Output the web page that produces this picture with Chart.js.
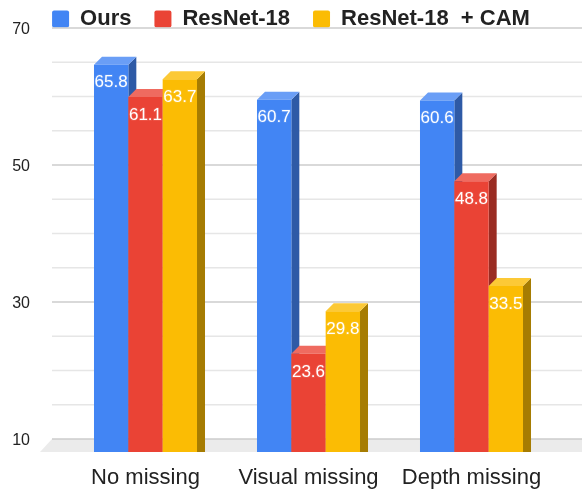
<!DOCTYPE html>
<html>
<head>
<meta charset="utf-8">
<style>html,body{margin:0;padding:0;background:#fff}canvas{display:block}</style>
<script src="https://cdn.jsdelivr.net/npm/chart.js@4/dist/chart.umd.min.js"></script>
</head>
<body>
<canvas id="c" width="582" height="491"></canvas>
<script>
const categories = ['No missing', 'Visual missing', 'Depth missing'];
const ours = [65.8, 60.7, 60.6];
const resnet18 = [61.1, 23.6, 48.8];
const resnet18Cam = [63.7, 29.8, 33.5];
const labeledTicks = [10, 30, 50, 70];

const faces = [
  {front:'#4285F4', top:'#6A9EF6', side:'#2E5AA6'},
  {front:'#EA4335', top:'#EF6B60', side:'#9A2C23'},
  {front:'#FBBC04', top:'#FCC936', side:'#A67C02'}
];
const DEPTH = 8, FLOOR = 13, WALL_LEFT = 52, WALL_TOP = 28;

const scene = {
  id: 'scene',
  afterLayout(chart) {
    chart.legend.top = -15;
    const y = chart.scales.y;
    const shift = y.getPixelForValue(70) - WALL_TOP;
    y.top -= shift;
    y.height += shift;
    chart.chartArea.top -= shift;
    chart.chartArea.height += shift;
    y.configure();
    y._labelItems = null;
  },
  beforeDatasetsDraw(chart) {
    const {ctx} = chart;
    const y = chart.scales.y;
    const yBase = y.getPixelForValue(10);
    ctx.save();
    ctx.fillStyle = '#ebebeb';
    ctx.beginPath();
    ctx.moveTo(WALL_LEFT - 12, yBase + FLOOR);
    ctx.lineTo(WALL_LEFT, yBase);
    ctx.lineTo(chart.width, yBase);
    ctx.lineTo(chart.width, yBase + FLOOR);
    ctx.closePath();
    ctx.fill();
    y.ticks.forEach(t => {
      const py = y.getPixelForValue(t.value);
      ctx.strokeStyle = labeledTicks.includes(t.value) ? '#cccccc' : '#e6e6e6';
      ctx.lineWidth = 1.5;
      ctx.beginPath();
      ctx.moveTo(WALL_LEFT, py);
      ctx.lineTo(chart.width, py);
      ctx.stroke();
    });
    chart.data.datasets.forEach((ds, i) => {
      const meta = chart.getDatasetMeta(i);
      const f = faces[i];
      meta.data.forEach(bar => {
        const p = bar.getProps(['x', 'y', 'width'], true);
        const l = p.x - p.width / 2, r = p.x + p.width / 2;
        const frontTop = p.y + DEPTH, backTop = p.y;
        ctx.fillStyle = f.side;
        ctx.beginPath();
        ctx.moveTo(r, frontTop);
        ctx.lineTo(r + DEPTH, backTop);
        ctx.lineTo(r + DEPTH, yBase + FLOOR);
        ctx.lineTo(r, yBase + FLOOR);
        ctx.closePath();
        ctx.fill();
        ctx.fillStyle = f.top;
        ctx.beginPath();
        ctx.moveTo(l, frontTop);
        ctx.lineTo(l + DEPTH, backTop);
        ctx.lineTo(r + DEPTH, backTop);
        ctx.lineTo(r, frontTop);
        ctx.closePath();
        ctx.fill();
      });
      ctx.save();
      ctx.translate(0, DEPTH);
      meta.controller.draw();
      ctx.restore();
    });
    ctx.font = '17px "Liberation Sans", Arial, sans-serif';
    ctx.textAlign = 'center';
    ctx.textBaseline = 'middle';
    ctx.lineJoin = 'round';
    chart.data.datasets.forEach((ds, i) => {
      chart.getDatasetMeta(i).data.forEach((bar, j) => {
        const p = bar.getProps(['x', 'y'], true);
        const ty = p.y + DEPTH + 18;
        ctx.strokeStyle = faces[i].top + '66';
        ctx.lineWidth = 2;
        ctx.strokeText(ds.data[j].toFixed(1), p.x, ty);
        ctx.fillStyle = '#ffffff';
        ctx.fillText(ds.data[j].toFixed(1), p.x, ty);
      });
    });
    ctx.restore();
    return false;
  }
};

const makeSet = (label, data, i) => ({
  label, data,
  backgroundColor: faces[i].front,
  borderWidth: 0,
  base: 9.27,
  barPercentage: 1,
  categoryPercentage: 0.632
});

new Chart(document.getElementById('c'), {
  type: 'bar',
  data: {
    labels: categories,
    datasets: [
      makeSet('Ours', ours, 0),
      makeSet('ResNet-18', resnet18, 1),
      makeSet('ResNet-18  + CAM', resnet18Cam, 2)
    ]
  },
  plugins: [scene],
  options: {
    responsive: false,
    animation: false,
    devicePixelRatio: 1,
    layout: {padding: 0, autoPadding: false},
    plugins: {
      tooltip: {enabled: false},
      legend: {
        display: true,
        position: 'top',
        align: 'center',
        maxHeight: 1,
        labels: {
          boxWidth: 17,
          boxHeight: 17,
          padding: 23,
          useBorderRadius: true,
          borderRadius: 2,
          color: '#222222',
          font: {family: '"Liberation Sans", Arial, sans-serif', size: 22, weight: 'bold'}
        }
      }
    },
    scales: {
      x: {
        grid: {display: false},
        border: {display: false},
        afterFit(s) { s.height = 52; },
        ticks: {
          color: '#222222',
          padding: 18,
          maxRotation: 0,
          autoSkip: false,
          font: {family: '"Liberation Sans", Arial, sans-serif', size: 22}
        }
      },
      y: {
        min: 10,
        max: 70,
        grid: {display: false},
        border: {display: false},
        afterFit(s) { s.width = 64; },
        ticks: {
          stepSize: 5,
          padding: 26,
          labelOffset: 2,
          color: '#222222',
          font: {family: '"Liberation Sans", Arial, sans-serif', size: 16},
          callback: v => labeledTicks.includes(v) ? String(v) : ''
        }
      },
      spacer: {
        position: 'right',
        min: 0,
        max: 1,
        grid: {display: false},
        border: {display: false},
        ticks: {display: false},
        afterFit(s) { s.width = 29; }
      }
    }
  }
});
</script>
</body>
</html>
